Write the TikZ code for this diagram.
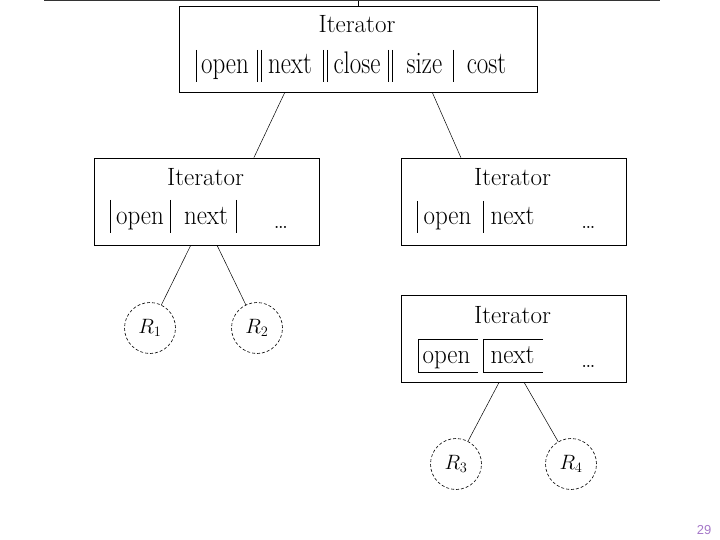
\documentclass[tikz,border=0pt]{standalone}
\usepackage{fontspec}
\usepackage{graphicx}
\usepackage{tikz}
\usetikzlibrary{calc, positioning}
\newfontfamily\pagefont{Liberation Sans}
\definecolor{pagenum}{RGB}{165,120,200}
\newcommand{\tallrow}[2]{\scalebox{1}[#1]{#2}}

\tikzset{
  iterbox/.style={draw, line width=0.8pt, minimum width=225pt, minimum height=87pt, inner sep=0pt},
  relnode/.style={circle, draw, dashed, dash pattern=on 3pt off 2pt, line width=0.6pt, minimum size=51pt, inner sep=0pt},
  lbl/.style={anchor=base, inner sep=0pt, font=\fontsize{25}{29}\selectfont},
  conn/.style={line width=0.5pt}
}

\begin{document}
\begin{tikzpicture}[x=1pt, y=-1pt]
    \useasboundingbox (0,0) rectangle (720,540);

    % boxes
    \node[iterbox, minimum width=358pt, minimum height=86pt] (iterTop) at (358,49) {};
    \node[iterbox] (iterL) at (206.5,201.5) {};
    \node[iterbox] (iterR) at (513.5,201.5) {};
    \node[iterbox] (iterRB) at (513.5,338.5) {};

    % top box contents
    \node[lbl] (tTitle) at (357,33) {Iterator};
    \node[lbl] (tOpen) at (225,74) {\tallrow{1.25}{open}};
    \node[lbl] (tNext) at (290,74) {\tallrow{1.25}{next}};
    \node[lbl] (tClose) at (357,74) {\tallrow{1.25}{close}};
    \node[lbl] (tSize) at (424.5,74) {\tallrow{1.25}{size}};
    \node[lbl] (tCost) at (486.5,74) {\tallrow{1.25}{cost}};
    \foreach \x in {196, 257, 261, 323, 327, 388, 392, 453} { \draw[line width=0.6pt] (\x,50) -- (\x,82); }

    % left box contents
    \node[lbl] (lTitle) at (205.5,186) {Iterator};
    \node[lbl] (lOpen) at (140,225) {\tallrow{1.12}{open}};
    \node[lbl] (lNext) at (206,225) {\tallrow{1.12}{next}};
    \node[lbl] (lDots) at (281,229) {\dots};
    \foreach \x in {110.5, 170.5, 236.5} { \draw[line width=0.6pt] (\x,200) -- (\x,233); }

    % right box contents
    \node[lbl] (rTitle) at (512.5,186) {Iterator};
    \node[lbl] (rOpen) at (447.5,225) {\tallrow{1.12}{open}};
    \node[lbl] (rNext) at (512.5,225) {\tallrow{1.12}{next}};
    \node[lbl] (rDots) at (588.5,229) {\dots};
    \foreach \x in {417.5, 483} { \draw[line width=0.6pt] (\x,201) -- (\x,233); }

    % lower right box contents
    \node[lbl] (bTitle) at (512.5,323) {Iterator};
    \node[lbl] (bOpen) at (446.5,363) {\tallrow{1.1}{open}};
    \node[lbl] (bNext) at (512.5,363) {\tallrow{1.1}{next}};
    \node[lbl] (bDots) at (588.5,367) {\dots};
    \draw[line width=0.6pt] (478,339) -- (418,339) -- (418,372) -- (478,372);
    \draw[line width=0.6pt] (543,339) -- (483,339) -- (483,372) -- (543,372);

    % relations
    \node[relnode] (R1) at (150,328) {\fontsize{22}{26}\selectfont$R_1$};
    \node[relnode] (R2) at (257,328) {\fontsize{22}{26}\selectfont$R_2$};
    \node[relnode] (R3) at (456,464) {\fontsize{22}{26}\selectfont$R_3$};
    \node[relnode] (R4) at (571,464) {\fontsize{22}{26}\selectfont$R_4$};

    % top rule
    \coordinate (ruleL) at (44,1);
    \coordinate (ruleR) at (660,1);
    \coordinate (ruleJoin) at (358,1);
    \draw[line width=1pt, black!80] (ruleL) -- (ruleR);
    \draw[conn] (ruleJoin) -- (iterTop.north);

    % connectors
    \draw[conn] ($(iterTop.south west)!0.296!(iterTop.south east)$) -- ($(iterL.north west)!0.71!(iterL.north east)$);
    \draw[conn] ($(iterTop.south west)!0.707!(iterTop.south east)$) -- ($(iterR.north west)!0.267!(iterR.north east)$);
    \draw[conn] ($(iterL.south west)!0.43!(iterL.south east)$) -- (R1);
    \draw[conn] ($(iterL.south west)!0.547!(iterL.south east)$) -- (R2);
    \draw[conn] ($(iterRB.south west)!0.436!(iterRB.south east)$) -- (R3);
    \draw[conn] ($(iterRB.south west)!0.547!(iterRB.south east)$) -- (R4);

    \node[anchor=base, inner sep=0pt, text=pagenum, font=\pagefont\fontsize{13}{15}\selectfont] (pageNo) at (704,534) {29};
\end{tikzpicture}
\end{document}
